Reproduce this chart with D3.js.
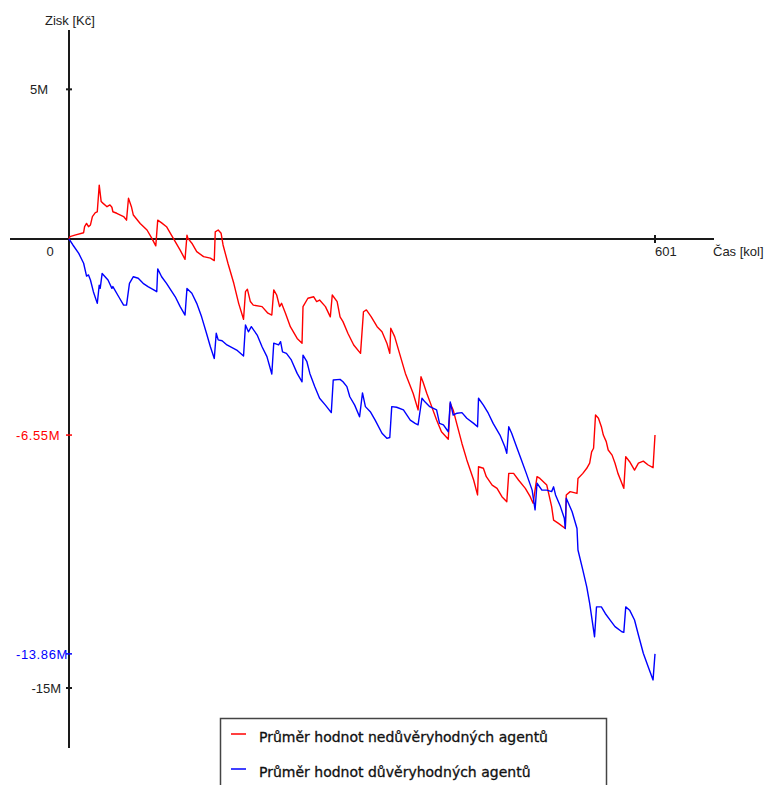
<!DOCTYPE html>
<html>
<head>
<meta charset="utf-8">
<script src="https://cdn.jsdelivr.net/npm/d3@7"></script>
<style>
  body { margin: 0; background: #fff; }
  svg { display: block; font-family: "Liberation Sans", Arial, sans-serif; }
</style>
</head>
<body>
<div id="chart"></div>
<script>
// time step (kolo) and average profit in millions Kč
const untrustedT = [0,1,6,15,16,18,20,22,24,27,29,31,33,35,39,42,44,45,49,56,59,61,64,66,73,80,85,89,91,95,100,107,114,119,121,122,126,131,138,145,149,150,153,156,158,163,169,174,179,181,183,186,189,198,204,208,210,213,216,218,222,227,234,239,240,245,251,254,257,263,268,270,275,278,281,286,292,299,302,305,310,316,321,326,329,330,334,339,345,353,358,361,363,367,372,377,382,389,391,394,398,403,408,415,419,420,425,428,434,439,444,449,451,456,461,468,473,476,480,483,490,495,497,502,509,510,514,521,522,527,531,534,536,538,540,543,546,548,551,553,557,560,563,567,569,571,575,580,584,589,594,599,601];
const untrustedV = [0,0.08,0.13,0.21,0.41,0.52,0.41,0.47,0.75,0.88,0.91,1.80,1.25,1.19,1.08,1.14,1.06,0.91,0.86,0.75,0.63,1.36,1.08,0.80,0.52,0.30,0.02,-0.23,0.63,0.54,0.41,0.02,-0.37,-0.68,0.13,0.02,-0.14,-0.42,-0.59,-0.64,-0.72,0.24,0.30,0.19,-0.20,-0.81,-1.48,-2.15,-2.68,-1.76,-1.68,-2.09,-2.21,-2.26,-2.48,-2.54,-1.70,-1.87,-2.26,-2.15,-2.48,-2.93,-3.32,-3.48,-2.26,-1.98,-1.93,-2.09,-2.04,-2.26,-2.60,-1.87,-2.09,-2.60,-2.76,-3.15,-3.54,-3.82,-2.43,-2.37,-2.60,-2.93,-3.10,-3.48,-3.82,-2.98,-3.26,-3.82,-4.49,-5.16,-5.71,-4.60,-4.77,-5.16,-5.60,-6.05,-6.44,-6.69,-5.49,-5.71,-6.21,-6.83,-7.38,-8.05,-8.55,-7.61,-7.66,-7.94,-8.22,-8.33,-8.61,-8.78,-7.83,-7.83,-8.05,-8.33,-8.61,-8.83,-7.94,-8.00,-8.22,-8.94,-9.39,-9.50,-9.67,-8.55,-8.44,-8.50,-8.00,-7.83,-7.66,-7.49,-7.11,-6.99,-5.88,-5.99,-6.27,-6.55,-6.77,-7.05,-7.22,-7.49,-7.83,-8.16,-8.33,-7.27,-7.44,-7.72,-7.49,-7.42,-7.55,-7.64,-6.55];

const trustedT = [0,4,10,15,18,20,22,25,29,31,32,34,37,40,44,45,51,56,59,62,66,71,76,81,86,90,91,95,100,109,114,119,121,126,131,136,141,145,149,151,153,157,162,172,179,181,184,187,193,198,203,208,210,215,217,219,223,228,234,239,240,244,247,252,257,263,269,271,278,281,285,288,293,298,301,304,309,314,321,326,329,331,336,343,350,355,358,362,365,370,377,380,384,389,391,394,398,403,408,415,419,420,425,430,435,442,447,449,451,454,459,464,469,475,478,480,485,490,495,497,499,504,508,509,510,516,521,522,527,531,534,537,539,541,546,550,555,560,567,569,571,575,580,584,589,594,599,601];
const trustedV = [0,-0.20,-0.48,-0.81,-1.24,-1.20,-1.37,-1.76,-2.15,-1.54,-1.65,-1.15,-1.26,-1.37,-1.65,-1.59,-1.93,-2.21,-2.21,-1.48,-1.26,-1.31,-1.48,-1.59,-1.68,-1.76,-1.00,-1.26,-1.48,-1.93,-2.26,-2.54,-1.65,-1.81,-2.15,-2.60,-3.15,-3.60,-3.99,-3.15,-3.37,-3.40,-3.54,-3.71,-3.91,-2.87,-3.10,-2.93,-3.21,-3.60,-3.93,-4.51,-3.48,-3.54,-3.43,-3.77,-3.82,-4.04,-4.49,-4.77,-3.88,-4.10,-4.49,-4.93,-5.32,-5.55,-5.80,-4.71,-4.69,-4.77,-4.93,-5.27,-5.55,-5.94,-5.14,-5.60,-5.77,-6.05,-6.49,-6.66,-6.63,-5.60,-5.62,-5.71,-6.05,-6.16,-6.21,-5.32,-5.44,-5.60,-5.71,-6.16,-6.21,-6.44,-5.44,-5.88,-5.82,-5.80,-5.99,-6.16,-6.27,-5.32,-5.55,-5.82,-6.16,-6.55,-6.94,-7.16,-6.27,-6.49,-6.94,-7.38,-7.83,-8.39,-9.05,-8.16,-8.39,-8.39,-8.44,-8.28,-8.55,-8.94,-9.33,-9.67,-8.66,-9.11,-9.67,-10.39,-11.06,-11.62,-12.17,-12.84,-13.29,-12.29,-12.29,-12.51,-12.73,-12.95,-13.12,-13.14,-12.29,-12.40,-12.73,-13.23,-13.84,-14.29,-14.73,-13.86];

const seriesNames = ["Průměr hodnot nedůvěryhodných agentů", "Průměr hodnot důvěryhodných agentů"];
const seriesColors = ["#ff0000", "#0000ff"];

const yTicks = [5, -15];          // plain black ticks
const finalValues = [-6.55, -13.86]; // last value of each series, marked on the y axis
const xTickValue = 601;

const width = 772;
const height = 785;

const svg = d3.select("#chart")
  .append("svg")
  .attr("width", width)
  .attr("height", height);

const x = d3.scaleLinear().domain([0, 601]).range([69, 655]);
const y = d3.scaleLinear().domain([-15, 0]).range([688, 239]);

const axisColor = "#1a1a1a";

// axes
svg.append("line")
  .attr("x1", 10).attr("x2", 714)
  .attr("y1", y(0)).attr("y2", y(0))
  .attr("stroke", axisColor).attr("stroke-width", 2);

svg.append("line")
  .attr("x1", x(0)).attr("x2", x(0))
  .attr("y1", 30).attr("y2", 748)
  .attr("stroke", axisColor).attr("stroke-width", 2);

// y ticks
svg.selectAll(".ytick")
  .data(yTicks)
  .enter()
  .append("line")
  .attr("class", "ytick")
  .attr("x1", x(0) - 3).attr("x2", x(0) + 3)
  .attr("y1", d => y(d)).attr("y2", d => y(d))
  .attr("stroke", axisColor).attr("stroke-width", 2);

// per-label end positions, the original places them a little unevenly
const yLabelEnd = { "5": 48, "-15": 61 };
svg.selectAll(".ylabel")
  .data(yTicks)
  .enter()
  .append("text")
  .attr("class", "ylabel")
  .attr("x", d => yLabelEnd[d])
  .attr("y", d => y(d) + 5)
  .attr("text-anchor", "end")
  .attr("font-size", 13)
  .attr("fill", "#222")
  .text(d => d + "M");

// final values, coloured like their series
svg.selectAll(".ftick")
  .data(finalValues)
  .enter()
  .append("line")
  .attr("class", "ftick")
  .attr("x1", x(0) - 3).attr("x2", x(0) + 3)
  .attr("y1", d => y(d)).attr("y2", d => y(d))
  .attr("stroke", (d, i) => seriesColors[i]).attr("stroke-width", 1.5);

svg.selectAll(".flabel")
  .data(finalValues)
  .enter()
  .append("text")
  .attr("class", "flabel")
  .attr("x", 16)
  .attr("y", d => y(d) + 5)
  .attr("font-size", 13)
  .attr("letter-spacing", 0.6)
  .attr("fill", (d, i) => seriesColors[i])
  .text(d => d + "M");

// zero and x tick
svg.append("text")
  .attr("x", 50).attr("y", y(0) + 17)
  .attr("text-anchor", "middle")
  .attr("font-size", 13).attr("fill", "#222")
  .text("0");

svg.append("line")
  .attr("x1", x(xTickValue)).attr("x2", x(xTickValue))
  .attr("y1", y(0) - 4).attr("y2", y(0) + 4)
  .attr("stroke", axisColor).attr("stroke-width", 2);

svg.append("text")
  .attr("x", x(xTickValue)).attr("y", y(0) + 17)
  .attr("font-size", 13).attr("fill", "#222")
  .text(xTickValue);

svg.append("text")
  .attr("x", 713).attr("y", y(0) + 17)
  .attr("font-size", 13).attr("fill", "#222")
  .text("Čas [kol]");

svg.append("text")
  .attr("x", 45).attr("y", 25)
  .attr("font-size", 13).attr("fill", "#222")
  .text("Zisk [Kč]");

// series
const series = [
  d3.zip(untrustedT, untrustedV),
  d3.zip(trustedT, trustedV)
];

const line = d3.line()
  .x(d => x(d[0]))
  .y(d => y(d[1]));

svg.selectAll(".series")
  .data(series)
  .enter()
  .append("path")
  .attr("class", "series")
  .attr("d", line)
  .attr("fill", "none")
  .attr("stroke", (d, i) => seriesColors[i])
  .attr("stroke-width", 1.4)
  .attr("stroke-linejoin", "round");

// legend
const legend = svg.append("g").attr("id", "legend");

legend.append("rect")
  .attr("x", 220.5).attr("y", 718.5)
  .attr("width", 386).attr("height", 90)
  .attr("fill", "#fff")
  .attr("stroke", "#444").attr("stroke-width", 1.5);

legend.selectAll("line")
  .data(seriesNames)
  .enter()
  .append("line")
  .attr("x1", 231).attr("x2", 246)
  .attr("y1", (d, i) => 734 + i * 35).attr("y2", (d, i) => 734 + i * 35)
  .attr("stroke", (d, i) => seriesColors[i]).attr("stroke-width", 1.5);

legend.selectAll("text")
  .data(seriesNames)
  .enter()
  .append("text")
  .attr("x", 259)
  .attr("y", (d, i) => 742 + i * 35)
  .attr("font-family", "'DejaVu Sans', Verdana, sans-serif")
  .attr("font-size", 14)
  .attr("fill", "#111")
  .attr("stroke", "#111").attr("stroke-width", 0.3)
  .text(d => d);
</script>
</body>
</html>
